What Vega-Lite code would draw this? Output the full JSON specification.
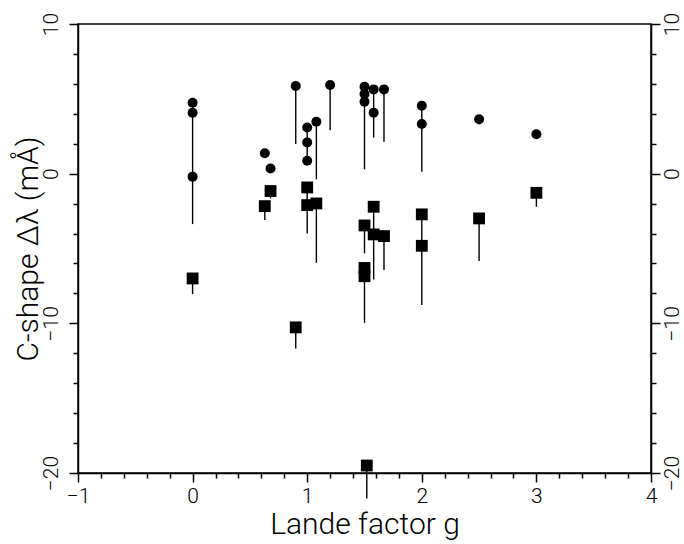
{
  "$schema": "https://vega.github.io/schema/vega-lite/v6.json",
  "autosize": {"type": "none"},
  "width": 573,
  "height": 449,
  "padding": {"left": 78, "top": 24, "right": 33, "bottom": 71},
  "background": "white",
  "config": {
    "view": {"stroke": "black", "strokeWidth": 1.5},
    "axis": {
      "domainColor": "black", "domainWidth": 1.5, "tickColor": "black", "tickWidth": 1.5,
      "labelColor": "black", "titleColor": "black", "labelFont": "Roboto", "titleFont": "Roboto",
      "labelFontWeight": 300, "titleFontWeight": 300, "labelFontSize": 21, "titleFontSize": 30,
      "grid": false, "labelOverlap": false, "labelFlush": false
    }
  },
  "data": {"values": [
    {"g": 0, "v": 4.74, "end": -3.37, "type": "circle"},
    {"g": 0, "v": 4.07, "type": "circle"},
    {"g": 0, "v": -0.2, "type": "circle"},
    {"g": 0.63, "v": 1.36, "type": "circle"},
    {"g": 0.68, "v": 0.35, "type": "circle"},
    {"g": 0.9, "v": 5.86, "end": 1.98, "type": "circle"},
    {"g": 1.0, "v": 3.09, "end": 0.86, "type": "circle"},
    {"g": 1.0, "v": 2.09, "type": "circle"},
    {"g": 1.0, "v": 0.86, "type": "circle"},
    {"g": 1.08, "v": 3.47, "end": -0.38, "type": "circle"},
    {"g": 1.2, "v": 5.92, "end": 2.9, "type": "circle"},
    {"g": 1.5, "v": 5.81, "end": 0.29, "type": "circle"},
    {"g": 1.5, "v": 5.32, "type": "circle"},
    {"g": 1.5, "v": 4.81, "type": "circle"},
    {"g": 1.58, "v": 5.63, "end": 2.4, "type": "circle"},
    {"g": 1.58, "v": 4.07, "type": "circle"},
    {"g": 1.67, "v": 5.63, "end": 2.13, "type": "circle"},
    {"g": 2.0, "v": 4.54, "end": 0.13, "type": "circle"},
    {"g": 2.0, "v": 3.32, "type": "circle"},
    {"g": 2.5, "v": 3.63, "end": 3.3, "type": "circle"},
    {"g": 3.0, "v": 2.63, "type": "circle"},
    {"g": 0, "v": -7.0, "end": -8.05, "type": "square"},
    {"g": 0.63, "v": -2.17, "end": -3.1, "type": "square"},
    {"g": 0.68, "v": -1.16, "end": -1.65, "type": "square"},
    {"g": 0.9, "v": -10.27, "end": -11.68, "type": "square"},
    {"g": 1.0, "v": -0.92, "end": -3.99, "type": "square"},
    {"g": 1.0, "v": -2.1, "type": "square"},
    {"g": 1.08, "v": -1.99, "end": -5.96, "type": "square"},
    {"g": 1.5, "v": -3.46, "end": -5.33, "type": "square"},
    {"g": 1.5, "v": -6.3, "end": -9.97, "type": "square"},
    {"g": 1.5, "v": -6.85, "type": "square"},
    {"g": 1.58, "v": -2.21, "end": -7.07, "type": "square"},
    {"g": 1.58, "v": -4.06, "type": "square"},
    {"g": 1.67, "v": -4.17, "end": -6.44, "type": "square"},
    {"g": 1.52, "v": -19.5, "end": -21.7, "type": "square"},
    {"g": 2.0, "v": -2.72, "end": -8.78, "type": "square"},
    {"g": 2.0, "v": -4.82, "type": "square"},
    {"g": 2.5, "v": -2.99, "end": -5.84, "type": "square"},
    {"g": 3.0, "v": -1.28, "end": -2.21, "type": "square"}
  ]},
  "resolve": {"axis": {"x": "independent", "y": "independent"}},
  "layer": [
    {
      "transform": [{"filter": "isValid(datum.end)"}],
      "mark": {"type": "rule", "color": "black", "strokeWidth": 1.4},
      "encoding": {
        "x": {
          "field": "g", "type": "quantitative",
          "scale": {"domain": [-1, 4], "nice": false, "zero": false},
          "axis": {
            "orient": "bottom",
            "title": "Lande factor g",
            "values": [-1,-0.8,-0.6,-0.4,-0.2,0,0.2,0.4,0.6,0.8,1,1.2,1.4,1.6,1.8,2,2.2,2.4,2.6,2.8,3,3.2,3.4,3.6,3.8,4],
            "labelOverlap": false,
            "labelExpr": "(abs(datum.value % 1) < 0.001 || abs(datum.value % 1) > 0.999) ? format(datum.value, 'd') : ''",
            "tickSize": {"condition": {"test": "abs(datum.value % 1) < 0.001 || abs(datum.value % 1) > 0.999", "value": 9}, "value": 5},
            "labelPadding": 3,
            "titlePadding": 3
          }
        },
        "y": {
          "field": "v", "type": "quantitative",
          "scale": {"domain": [-20, 10], "nice": false, "zero": false},
          "axis": {
            "orient": "left",
            "title": "C-shape Δλ (mÅ)",
            "values": [-20,-18,-16,-14,-12,-10,-8,-6,-4,-2,0,2,4,6,8,10],
            "format": "d",
            "labelOverlap": false,
            "labelExpr": "abs(datum.value % 10) < 0.001 ? datum.label : ''",
            "tickSize": {"condition": {"test": "abs(datum.value % 10) < 0.001", "value": 9}, "value": 5},
            "labelAngle": -90,
            "labelPadding": 8,
            "titlePadding": -3
          }
        },
        "y2": {"field": "end"}
      }
    },
    {
      "mark": {"type": "point", "filled": true, "color": "black", "opacity": 1},
      "encoding": {
        "x": {"field": "g", "type": "quantitative", "axis": null},
        "y": {
          "field": "v", "type": "quantitative",
          "axis": {
            "orient": "right",
            "title": null,
            "values": [-20,-18,-16,-14,-12,-10,-8,-6,-4,-2,0,2,4,6,8,10],
            "format": "d",
            "labelOverlap": false,
            "labelExpr": "abs(datum.value % 10) < 0.001 ? datum.label : ''",
            "tickSize": {"condition": {"test": "abs(datum.value % 10) < 0.001", "value": 9}, "value": 5},
            "labelAngle": -90,
            "labelPadding": 1
          }
        },
        "shape": {"field": "type", "type": "nominal", "scale": {"domain": ["circle", "square"], "range": ["circle", "square"]}, "legend": null},
        "size": {"field": "type", "type": "nominal", "scale": {"domain": ["circle", "square"], "range": [100, 140]}, "legend": null}
      }
    }
  ]
}
